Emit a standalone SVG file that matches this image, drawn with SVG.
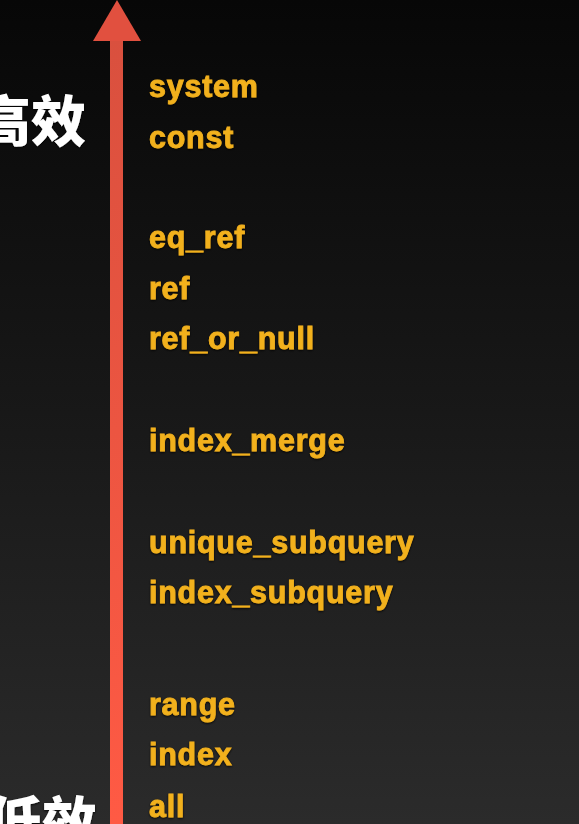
<svg xmlns="http://www.w3.org/2000/svg" width="579" height="824" viewBox="0 0 579 824">
  <defs>
    <linearGradient id="bg" x1="0" y1="0" x2="0" y2="1">
      <stop offset="0" stop-color="#070707"/>
      <stop offset="0.5" stop-color="#181818"/>
      <stop offset="1" stop-color="#2b2b2b"/>
    </linearGradient>
    <linearGradient id="shaft" x1="0" y1="0" x2="0" y2="1">
      <stop offset="0" stop-color="#d9503e"/>
      <stop offset="1" stop-color="#ff5a44"/>
    </linearGradient>
    <filter id="glow" x="-10%" y="-30%" width="120%" height="160%">
      <feDropShadow dx="0" dy="1" stdDeviation="1.2" flood-color="#000" flood-opacity="0.9"/>
    </filter>
    <style>
      .lbl { font-family: "Liberation Sans", Arial, sans-serif; font-weight: bold; font-size: 30.5px; letter-spacing: 0.75px; fill: #f2b11f; stroke: #f2b11f; stroke-width: 0.8px; }
      .cn { font-family: "Noto Sans CJK SC", "Liberation Sans", sans-serif; font-weight: 900; font-size: 55px; fill: #ffffff; text-anchor: end; }
    </style>
  </defs>
  <rect x="0" y="0" width="579" height="824" fill="url(#bg)"/>

  <g id="side-labels" filter="url(#glow)">
    <text class="cn" x="86" y="141">高效</text>
    <text class="cn" x="97" y="842">低效</text>
  </g>

  <g id="connectors">
    <rect x="110" y="38" width="13" height="786" fill="url(#shaft)"/>
    <polygon points="117,0 141,41 93,41" fill="#e1503f"/>
  </g>

  <g id="labels" filter="url(#glow)">
    <g id="n-system"><text class="lbl" x="149" y="97">system</text></g>
    <g id="n-const"><text class="lbl" x="149" y="148">const</text></g>
    <g id="n-eq_ref"><text class="lbl" x="149" y="248">eq_ref</text></g>
    <g id="n-ref"><text class="lbl" x="149" y="299">ref</text></g>
    <g id="n-ref_or_null"><text class="lbl" x="149" y="349">ref_or_null</text></g>
    <g id="n-index_merge"><text class="lbl" x="149" y="451">index_merge</text></g>
    <g id="n-unique_subquery"><text class="lbl" x="149" y="553">unique_subquery</text></g>
    <g id="n-index_subquery"><text class="lbl" x="149" y="603">index_subquery</text></g>
    <g id="n-range"><text class="lbl" x="149" y="715">range</text></g>
    <g id="n-index"><text class="lbl" x="149" y="765">index</text></g>
    <g id="n-all"><text class="lbl" x="149" y="817">all</text></g>
  </g>
</svg>
